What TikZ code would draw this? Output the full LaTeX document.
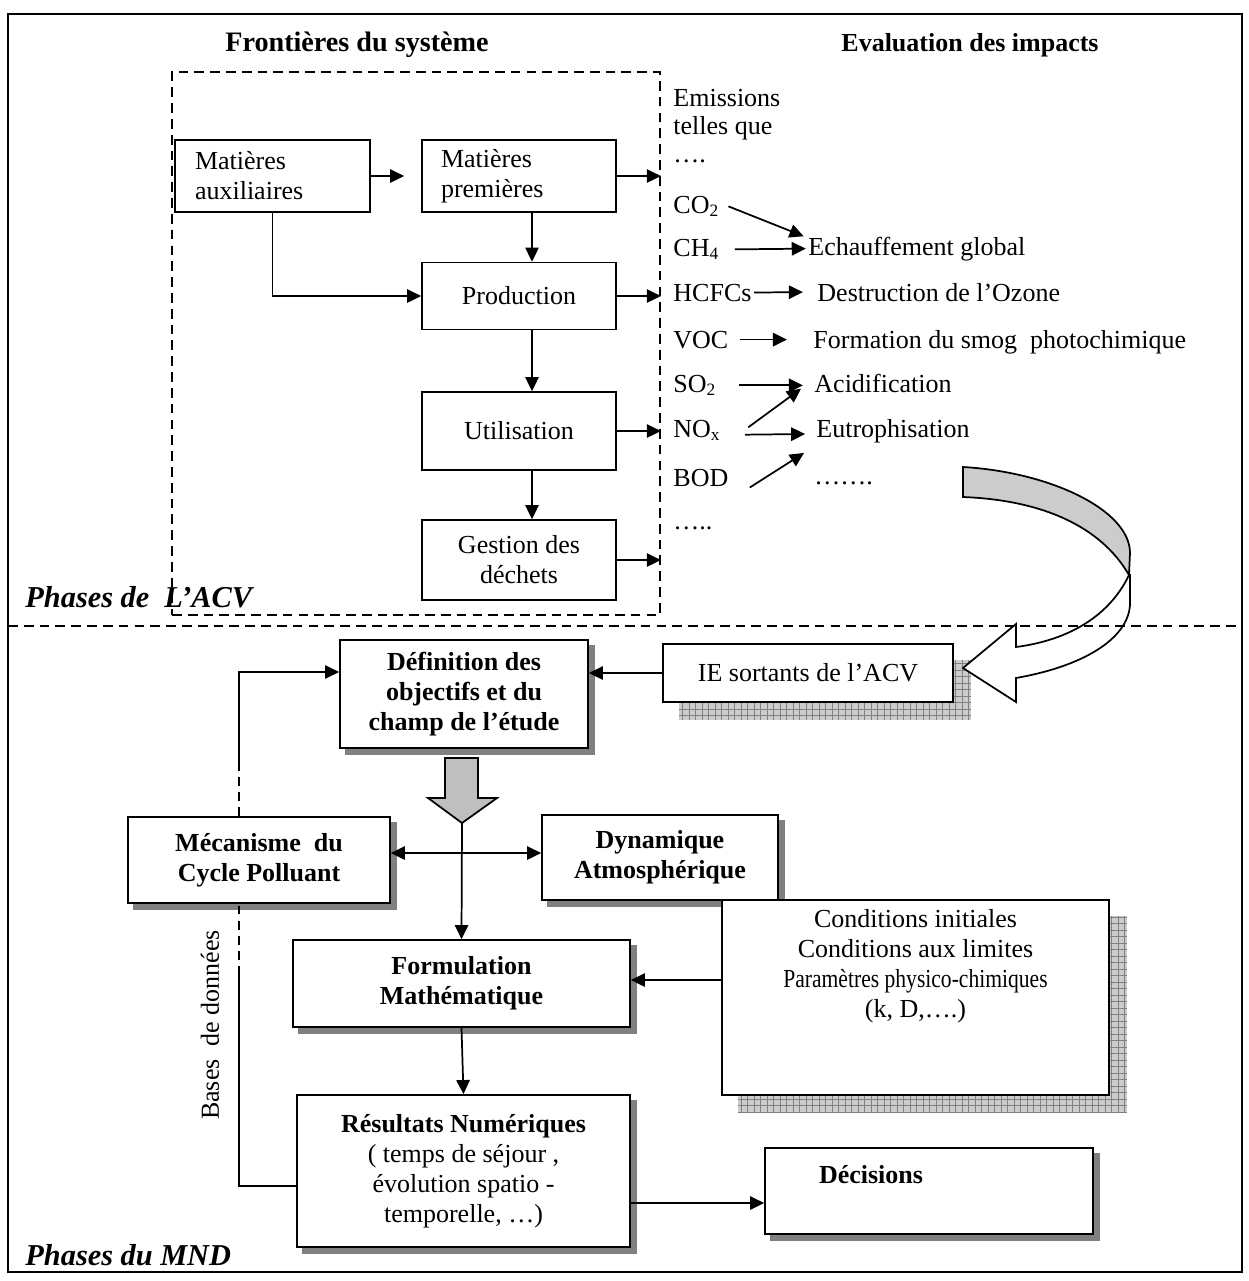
\documentclass[tikz,border=0pt]{standalone}
\usepackage{fontspec}
\setmainfont{Liberation Serif}
\usetikzlibrary{arrows.meta,calc,patterns}

\pgfdeclarelayer{back}
\pgfsetlayers{back,main}

\def\u{0.4615pt}
\newcommand{\fsz}{\fontsize{12}{13.8}\selectfont}

\tikzset{
  box/.style={draw, line width=0.8pt, fill=white, align=center, inner sep=0pt},
  bsize/.style 2 args={minimum width=#1*\u, minimum height=#2*\u},
  hd/.style={font=\fontsize{13}{15}\selectfont\bfseries},
  phase/.style={anchor=base west, inner sep=0pt, font=\fontsize{14}{16}\selectfont\bfseries\itshape},
  txt/.style={anchor=base west, inner sep=0pt},
  flow/.style={line width=0.8pt, -{Triangle[length=6.5pt,width=6.2pt]}},
  link/.style={line width=0.6pt},
  dashline/.style={line width=0.8pt, dash pattern=on 4.5pt off 2.8pt},
  shade/.style={fill=gray},
  hatch/.style={preaction={fill=gray!40}, pattern=grid, pattern color=gray},
}

\begin{document}
\begin{tikzpicture}[x=\u, y=-\u, font=\fsz]

  \useasboundingbox (0,0) rectangle (1249,1281);

  % Frame
  \draw[line width=0.7pt] (8,14) rectangle (1242,1272);

  % Headings
  \node[hd] (hsys) at (357,45) {Frontières du système};
  \node[hd, font=\fontsize{12}{14}\selectfont\bfseries] (himp) at (970,45) {Evaluation des impacts};

  % System boundary
  \node[draw, dashline, bsize={488}{543}] (sysb) at (416,343.5) {};

  % Life cycle stages
  \node[box, bsize={195}{72}, text width=155*\u, align=left] (aux) at (272.5,176) {Matières\\auxiliaires};
  \node[box, bsize={194}{72}, text width=156*\u, align=left] (prem) at (519,176) {Matières\\premières};
  \node[box, bsize={194}{67}] (prod) at (519,296) {Production};
  \node[box, bsize={194}{78}] (util) at (519,431) {Utilisation};
  \node[box, bsize={194}{80}] (dech) at (519,560) {Gestion des\\déchets};

  \coordinate (col) at (532,0);
  \draw[flow] (aux.east) -- ($(prem.west)+(-17,0)$);
  \draw[flow] (prem.east) -- (prem.east -| sysb.east);
  \draw[flow] (prem.south -| col) -- (prod.north -| col);
  \draw[flow] (aux.south) |- (prod.west);
  \draw[flow] (prod.east) -- (prod.east -| sysb.east);
  \draw[flow] (prod.south -| col) -- (util.north -| col);
  \draw[flow] (util.east) -- (util.east -| sysb.east);
  \draw[flow] (util.south -| col) -- (dech.north -| col);
  \draw[flow] (dech.east) -- (dech.east -| sysb.east);

  % Emissions
  \node[txt] (emi1) at (673,106) {Emissions};
  \node[txt] (emi2) at (673,134) {telles que};
  \node[txt] (emi3) at (673,162) {….};
  \node[txt] (co2) at (673,213) {CO\textsubscript{2}};
  \node[txt] (ch4) at (673,256) {CH\textsubscript{4}};
  \node[txt] (hcfc) at (673,301) {HCFCs};
  \node[txt] (voc) at (673,348) {VOC};
  \node[txt] (so2) at (673,392) {SO\textsubscript{2}};
  \node[txt] (nox) at (673,437) {NO\textsubscript{x}};
  \node[txt] (bod) at (673,486) {BOD};
  \node[txt] (emi4) at (673,529) {…..};

  % Impacts
  \node[txt] (echf) at (808,255) {Echauffement global};
  \node[txt] (ozon) at (817,301) {Destruction de l’Ozone};
  \node[txt] (smog) at (813,348) {Formation du smog\ \ photochimique};
  \node[txt] (acid) at (814,392) {Acidification};
  \node[txt] (eutr) at (816,437) {Eutrophisation};
  \node[txt] (more) at (814,484) {…….};

  \draw[flow] ([xshift=4pt]co2.east) -- ([xshift=-2pt]echf.north west);
  \draw[flow] ([xshift=7pt]ch4.east) -- ([xshift=-1pt]echf.west);
  \draw[flow] ([xshift=1pt]hcfc.east) -- ([xshift=-6.5pt]ozon.west);
  \draw[flow] ([xshift=5pt]voc.east) -- ([xshift=-12pt]voc.east -| smog.west);
  \draw[flow] ([xshift=10pt]so2.east) -- ($(so2.east -| acid.west)+(-11,0)$);
  \draw[flow] ([xshift=12.5pt,yshift=1.4pt]nox.east) -- ($(acid.south west)+(-13,-4)$);
  \draw[flow] ([xshift=11pt,yshift=-2pt]nox.east) -- ([xshift=-5pt,yshift=-1.5pt]eutr.west);
  \draw[flow] ([xshift=9.7pt,yshift=-4.6pt]bod.east) -- ($(eutr.south west)+(-12,10)$);

  % Turning arrow
  \filldraw[fill=gray!40, line width=0.8pt] (963,467) .. controls (1050,472) and (1130,510) .. (1130,553)
    -- (1129,575) .. controls (1100,525) and (1040,500) .. (963,497) -- cycle;
  \filldraw[fill=white, line width=0.8pt] (1129,575) .. controls (1110,615) and (1070,640) .. (1016,647)
    -- (1016,624) -- (963,668) -- (1016,702) -- (1016,678)
    .. controls (1090,665) and (1130,635) .. (1130,603) -- (1130,575) -- cycle;

  % Separator and phase labels
  \draw[dashline] (8,626) -- (1242,626);
  \node[phase] (pacv) at (25,607) {Phases de\ \ L’ACV};
  \node[phase] (pmnd) at (25,1265) {Phases du MND};

  % MND boxes
  \node[box, bsize={290}{58}] (ie) at (808,673) {IE sortants de l’ACV};
  \node[box, bsize={248}{108}, font=\fsz\bfseries] (defn) at (464,694) {Définition des\\objectifs et du\\champ de l’étude};
  \node[box, bsize={262}{86}, font=\fsz\bfseries] (meca) at (259,860) {Mécanisme\ \ du\\Cycle Polluant};
  \node[box, bsize={236}{85}, font=\fsz\bfseries] (dyna) at (660,857.5) {Dynamique\\Atmosphérique};
  \node[box, bsize={337}{87}, font=\fsz\bfseries] (form) at (461.5,983.5) {Formulation\\Mathématique};
  \node[box, bsize={387}{195}] (cond) at (915.5,997.5) {};
  \node[align=center, anchor=north, inner sep=0pt] (condtx) at (915.5,909) {Conditions initiales\\Conditions aux limites\\\scalebox{0.83}[1]{Paramètres physico-chimiques}\\(k, D,….)};
  \node[box, bsize={333}{152}] (resu) at (463.5,1171) {\textbf{Résultats Numériques}\\( temps de séjour ,\\évolution spatio -\\temporelle, …)};
  \node[box, bsize={328}{86}] (deci) at (929,1191) {};
  \node[font=\fsz\bfseries] (decitx) at (871,1175) {Décisions};

  % Shadows
  \begin{pgfonlayer}{back}
    \foreach \bx in {defn,meca,dyna,form,resu,deci}
      \fill[shade] ($(\bx.south west)+(6,6)$) rectangle ($(\bx.north east)+(6,6)$);
    \foreach \bx in {ie,cond}
      \fill[hatch] ($(\bx.south west)+(17,17)$) rectangle ($(\bx.north east)+(17,17)$);
  \end{pgfonlayer}

  % Grey down arrow
  \coordinate (tip) at (462,823);
  \coordinate (junc) at (462,853);
  \filldraw[fill=gray!50, line width=0.8pt] (445,758) -- (478,758) -- (478,798) -- (497,798)
    -- (tip) -- (428,798) -- (445,798) -- cycle;

  % MND flows
  \draw[flow] (ie.west) -- (ie.west -| defn.east);
  \draw[flow] (tip) -- (form.north);
  \draw[flow] (junc) -- (junc -| meca.east);
  \draw[flow] (junc) -- (junc -| dyna.west);
  \coordinate (cf) at (0,980);
  \draw[flow] (cond.west |- cf) -- (form.east |- cf);
  \draw[flow] (form.south) -- (resu.north);
  \coordinate (rd) at (0,1203);
  \draw[flow] (resu.east |- rd) -- (deci.west |- rd);

  % Data base loop
  \coordinate (lpb) at (239,1186);
  \coordinate (lpd) at (239,975);
  \coordinate (lpu) at (239,762);
  \coordinate (lpt) at (239,672);
  \draw[link] (resu.west |- lpb) -- (lpb) -- (lpd);
  \draw[link, dash pattern=on 4pt off 3pt] (lpd) -- (meca.south -| lpb);
  \draw[link, dash pattern=on 4pt off 3pt] (meca.north -| lpb) -- (lpu);
  \draw[link, -{Triangle[length=6.5pt,width=6.2pt]}] (lpu) -- (lpt) -- (lpt -| defn.west);
  \node[rotate=90] (bdd) at (210,1025) {Bases\ \ de données};

\end{tikzpicture}
\end{document}
